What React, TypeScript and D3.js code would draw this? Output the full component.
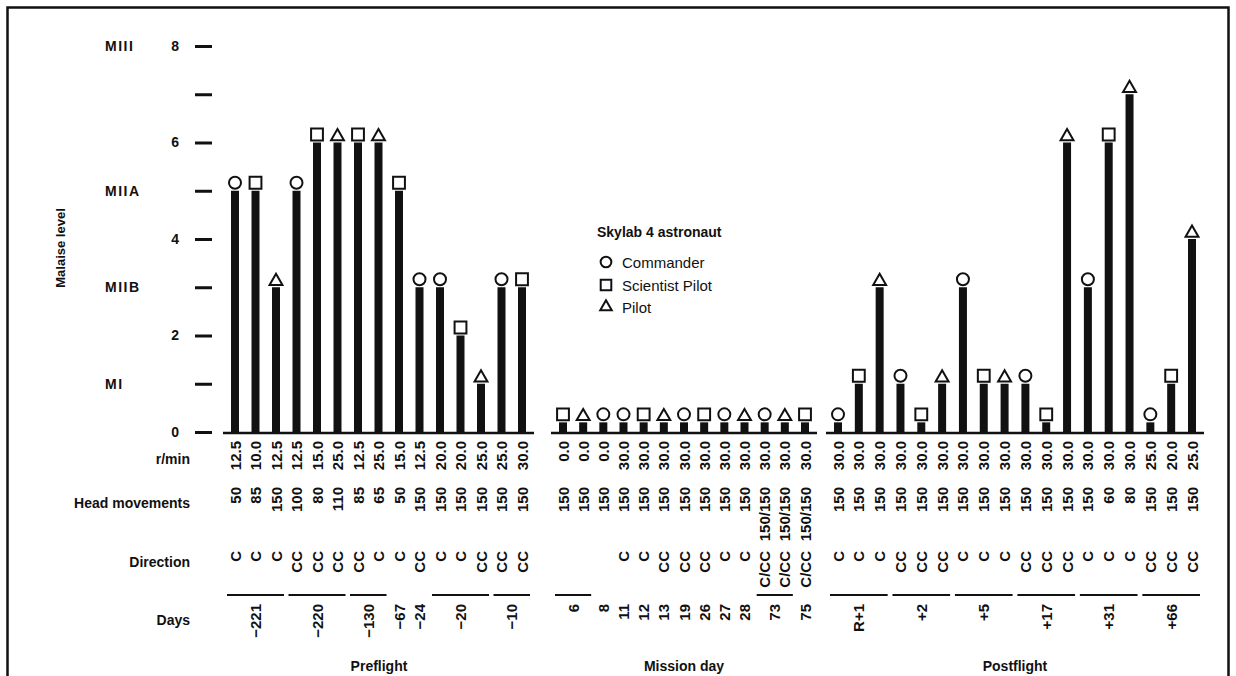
import React from "react";
import * as d3 from "d3";

// malaise scale
const levelTicks = [0, 1, 2, 3, 4, 5, 6, 7, 8];
const levelNumbers = ["0", "", "2", "", "4", "", "6", "", "8"];
const levelNameValues = [8, 5, 3, 1];
const levelNames = ["MIII", "MIIA", "MIIB", "MI"];

const rowLabels = ["r/min", "Head movements", "Direction", "Days"];

// C = Commander, S = Scientist Pilot, P = Pilot
const crewCodes = ["C", "S", "P"];
const crewNames = ["Commander", "Scientist Pilot", "Pilot"];

// Preflight
const preflightLevel = [5, 5, 3, 5, 6, 6, 6, 6, 5, 3, 3, 2, 1, 3, 3];
const preflightCrew = ["C", "S", "P", "C", "S", "P", "S", "P", "S", "C", "C", "S", "P", "C", "S"];
const preflightRpm = ["12.5", "10.0", "12.5", "12.5", "15.0", "25.0", "12.5", "25.0", "15.0", "12.5", "20.0", "20.0", "25.0", "25.0", "30.0"];
const preflightHead = ["50", "85", "150", "100", "80", "110", "85", "65", "50", "150", "150", "150", "150", "150", "150"];
const preflightDirection = ["C", "C", "C", "CC", "CC", "CC", "CC", "C", "C", "CC", "C", "C", "CC", "CC", "CC"];
const preflightDays = ["\u2212221", "\u2212220", "\u2212130", "\u221267", "\u221224", "\u221220", "\u221210"];
const preflightDaySpan = [3, 3, 2, 1, 1, 3, 2];

// Mission day
const missionLevel = [0.2, 0.2, 0.2, 0.2, 0.2, 0.2, 0.2, 0.2, 0.2, 0.2, 0.2, 0.2, 0.2];
const missionCrew = ["S", "P", "C", "C", "S", "P", "C", "S", "C", "P", "C", "P", "S"];
const missionRpm = ["0.0", "0.0", "0.0", "30.0", "30.0", "30.0", "30.0", "30.0", "30.0", "30.0", "30.0", "30.0", "30.0"];
const missionHead = ["150", "150", "150", "150", "150", "150", "150", "150", "150", "150", "150/150", "150/150", "150/150"];
const missionDirection = ["", "", "", "C", "C", "CC", "CC", "CC", "C", "C", "C/CC", "C/CC", "C/CC"];
const missionDays = ["6", "8", "11", "12", "13", "19", "26", "27", "28", "73", "75"];
const missionDaySpan = [2, 1, 1, 1, 1, 1, 1, 1, 1, 2, 1];

// Postflight
const postflightLevel = [0.2, 1, 3, 1, 0.2, 1, 3, 1, 1, 1, 0.2, 6, 3, 6, 7, 0.2, 1, 4];
const postflightCrew = ["C", "S", "P", "C", "S", "P", "C", "S", "P", "C", "S", "P", "C", "S", "P", "C", "S", "P"];
const postflightRpm = ["30.0", "30.0", "30.0", "30.0", "30.0", "30.0", "30.0", "30.0", "30.0", "30.0", "30.0", "30.0", "30.0", "30.0", "30.0", "25.0", "20.0", "25.0"];
const postflightHead = ["150", "150", "150", "150", "150", "150", "150", "150", "150", "150", "150", "150", "150", "60", "80", "150", "150", "150"];
const postflightDirection = ["C", "C", "C", "CC", "CC", "CC", "C", "C", "C", "CC", "CC", "CC", "C", "C", "C", "CC", "CC", "CC"];
const postflightDays = ["R+1", "+2", "+5", "+17", "+31", "+66"];
const postflightDaySpan = [3, 3, 3, 3, 3, 3];

const groups = [
  { name: "Preflight", level: preflightLevel, crew: preflightCrew, rpm: preflightRpm, head: preflightHead, dir: preflightDirection, days: preflightDays, span: preflightDaySpan, range: [235, 522], labelX: 379 },
  { name: "Mission day", level: missionLevel, crew: missionCrew, rpm: missionRpm, head: missionHead, dir: missionDirection, days: missionDays, span: missionDaySpan, range: [563, 805], labelX: 684 },
  { name: "Postflight", level: postflightLevel, crew: postflightCrew, rpm: postflightRpm, head: postflightHead, dir: postflightDirection, days: postflightDays, span: postflightDaySpan, range: [838, 1192], labelX: 1015 },
];

const font = "'Liberation Sans', Arial, sans-serif";
const symbolType: any = { C: d3.symbolCircle, S: d3.symbolSquare, P: d3.symbolTriangle };
const symbolSize: any = { C: 113, S: 140, P: 72 };
const symbolLift: any = { C: 8, S: 8, P: 6 };

export default class App extends React.Component {
  svgEl: SVGSVGElement | null = null;

  componentDidMount() {
    this.drawChart();
  }

  drawChart() {
    const svg = d3.select(this.svgEl);
    svg.selectAll("*").remove();

    svg.append("rect")
      .attr("x", 7.5).attr("y", 7.5).attr("width", 1221).attr("height", 700)
      .attr("fill", "none").attr("stroke", "#111").attr("stroke-width", 2.5);

    const y = d3.scaleLinear().domain([0, 8]).range([432, 46]);

    // y axis: floating dashes with level numbers
    const axis = svg.append("g")
      .attr("transform", "translate(212,0)")
      .call(d3.axisLeft(y).tickValues(levelTicks).tickSize(17).tickPadding(16)
        .tickFormat((d: any) => levelNumbers[levelTicks.indexOf(d)]));
    axis.select(".domain").remove();
    axis.selectAll(".tick line").attr("stroke", "#111").attr("stroke-width", 3);
    axis.selectAll(".tick text")
      .attr("font-family", font).attr("font-size", 14).attr("font-weight", "bold").attr("fill", "#111");

    svg.append("g").selectAll("text")
      .data(levelNameValues)
      .enter().append("text")
      .attr("x", 105).attr("y", d => y(d))
      .attr("dominant-baseline", "central")
      .attr("font-family", font).attr("font-size", 14).attr("font-weight", "bold")
      .attr("letter-spacing", 1.5).attr("fill", "#111")
      .text((d, i) => levelNames[i]);

    svg.append("text")
      .attr("transform", "translate(60,248) rotate(-90)")
      .attr("text-anchor", "middle").attr("dominant-baseline", "central")
      .attr("font-family", font).attr("font-size", 13).attr("font-weight", "bold").attr("fill", "#111")
      .text("Malaise level");

    // row titles
    const rowY = [459, 503, 562, 620];
    svg.append("g").selectAll("text")
      .data(rowLabels)
      .enter().append("text")
      .attr("x", 190).attr("y", (d, i) => rowY[i])
      .attr("text-anchor", "end").attr("dominant-baseline", "central")
      .attr("font-family", font).attr("font-size", 14).attr("font-weight", "bold").attr("fill", "#111")
      .text(d => d);

    const vtext = (g: any, x: number, top: number, t: string) => {
      g.append("text")
        .attr("transform", "translate(" + x + "," + top + ") rotate(-90)")
        .attr("text-anchor", "end").attr("dominant-baseline", "central")
        .attr("font-family", font).attr("font-size", 15).attr("font-weight", "bold").attr("fill", "#111")
        .text(t);
    };

    groups.forEach(grp => {
      const n = grp.level.length;
      const x = d3.scalePoint<number>().domain(d3.range(n)).range(grp.range as [number, number]);
      const g = svg.append("g");

      g.append("line")
        .attr("x1", grp.range[0] - 12).attr("x2", grp.range[1] + 12)
        .attr("y1", y(0) + 1).attr("y2", y(0) + 1)
        .attr("stroke", "#111").attr("stroke-width", 2.5);

      g.selectAll(".bar")
        .data(grp.level)
        .enter().append("rect")
        .attr("class", "bar")
        .attr("x", (d, i) => (x(i) as number) - 4)
        .attr("y", d => y(d))
        .attr("width", 8)
        .attr("height", d => y(0) - y(d))
        .attr("fill", "#111");

      g.selectAll(".mark")
        .data(grp.level)
        .enter().append("path")
        .attr("class", "mark")
        .attr("d", (d, i) => d3.symbol().type(symbolType[grp.crew[i]]).size(symbolSize[grp.crew[i]])())
        .attr("transform", (d, i) => "translate(" + x(i) + "," + (y(d) - symbolLift[grp.crew[i]]) + ")")
        .attr("fill", "#fff").attr("stroke", "#111").attr("stroke-width", 2);

      for (let i = 0; i < n; i++) {
        const xi = x(i) as number;
        vtext(g, xi, 441, grp.rpm[i]);
        vtext(g, xi, 487, grp.head[i]);
        if (grp.dir[i]) vtext(g, xi, 551, grp.dir[i]);
      }

      let start = 0;
      grp.days.forEach((label, k) => {
        const span = grp.span[k];
        const x0 = x(start) as number;
        const x1 = x(start + span - 1) as number;
        if (span > 1) {
          g.append("line")
            .attr("x1", x0 - 8).attr("x2", x1 + 8)
            .attr("y1", 595).attr("y2", 595)
            .attr("stroke", "#111").attr("stroke-width", 2);
        }
        vtext(g, (x0 + x1) / 2, 604, label);
        start += span;
      });

      g.append("text")
        .attr("x", grp.labelX).attr("y", 671)
        .attr("text-anchor", "middle")
        .attr("font-family", font).attr("font-size", 14).attr("font-weight", "bold").attr("fill", "#111")
        .text(grp.name);
    });

    // legend
    const lg = svg.append("g").attr("transform", "translate(597,0)");
    lg.append("text")
      .attr("x", 0).attr("y", 237)
      .attr("font-family", font).attr("font-size", 14).attr("font-weight", "bold").attr("fill", "#111")
      .text("Skylab 4 astronaut");
    const legendY = [262, 285, 307];
    crewCodes.forEach((c, i) => {
      lg.append("path")
        .attr("d", d3.symbol().type(symbolType[c]).size(symbolSize[c] * 0.8)())
        .attr("transform", "translate(9," + legendY[i] + ")")
        .attr("fill", "#fff").attr("stroke", "#111").attr("stroke-width", 2);
      lg.append("text")
        .attr("x", 25).attr("y", legendY[i])
        .attr("dominant-baseline", "central")
        .attr("font-family", font).attr("font-size", 15).attr("fill", "#111")
        .text(crewNames[i]);
    });
  }

  render() {
    return (
      <svg
        width={1236}
        height={676}
        style={{ position: "absolute", left: 0, top: 0, background: "#fff" }}
        ref={el => { this.svgEl = el; }}
      />
    );
  }
}
